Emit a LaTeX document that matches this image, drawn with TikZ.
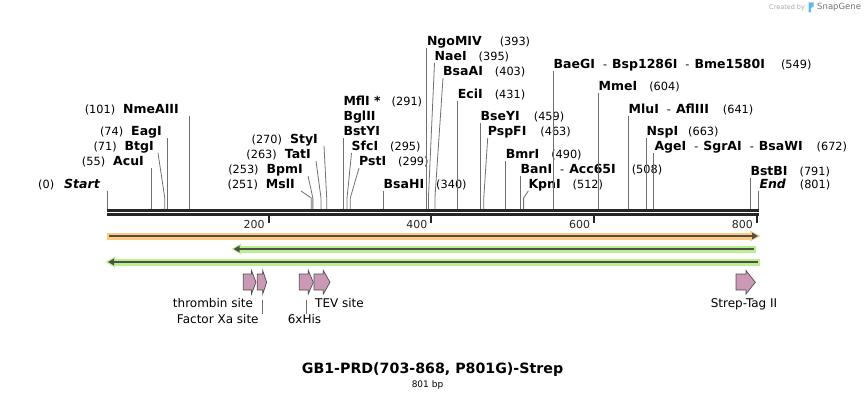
\documentclass[tikz,border=0pt]{standalone}
\usepackage{fontspec}
\setmainfont{DejaVu Sans}
\usetikzlibrary{arrows.meta}
\definecolor{cutline}{HTML}{707070}
\definecolor{bandorange}{HTML}{FCCB7C}
\definecolor{bandgreen}{HTML}{B9F08C}
\definecolor{darkline}{HTML}{4F4F4F}
\definecolor{featpink}{HTML}{C999B5}
\definecolor{snapblue}{HTML}{62B8EC}
\newcommand{\bpx}[1]{107+0.8137*#1}
\newcommand{\enz}[1]{{\fontsize{12.5}{14}\selectfont\bfseries #1}}
\newcommand{\loc}[1]{{\fontsize{11.3}{13}\selectfont(#1)}}
\newcommand{\enzsep}{\hspace{8pt}{\fontsize{11.3}{13}\selectfont-}\hspace{5pt}}
\newcommand{\featarrow}[3]{\draw[feat] (#1,274) -- (#2,274) -- (#2,270.5) -- (#3,282.3) -- (#2,294) -- (#2,290) -- (#1,290) -- cycle;}
\tikzset{
  site/.style={inner sep=0pt, text height=9pt, text depth=2.5pt},
  cutl/.style={draw=cutline, line width=0.8pt},
  feat/.style={fill=featpink, draw=darkline, line width=0.7pt, line join=miter},
  featlbl/.style={inner sep=0pt, font=\fontsize{12}{14}\selectfont},
}
\begin{document}
\begin{tikzpicture}[x=1pt,y=-1pt]
\useasboundingbox (0,0) rectangle (866,401);
\foreach \n in {0,55,71,74,101,251,253,263,270,291,295,299,340,393,395,403,431,459,463,490,508,512,549,604,641,663,672,791,801} {
  \coordinate (s\n) at ({\bpx{\n}},209);
  \coordinate (k\n) at ({\bpx{\n}},198);
}

% backbone and ruler
\draw[line width=3pt, black!85] (107,210) -- (759,210);
\draw[line width=3pt, black!85] (107,214.5) -- (759,214.5);
\foreach \t in {200,400,600,800}
  \draw[line width=2pt, black!85] ({\bpx{\t}-1},214) -- ({\bpx{\t}-1},223)
    node[anchor=east, xshift=-3pt, yshift=-1pt, inner sep=0pt, font=\fontsize{11}{12}\selectfont] {\t};

% left labels
\node[site, anchor=east] (lStart) at (100,185) {\loc{0}\hspace{10pt}\enz{\itshape Start}};
\node[site, anchor=east] (lAcuI) at (144,162) {\loc{55}\hspace{8pt}\enz{AcuI}};
\node[site, anchor=east] (lBtgI) at (154,147) {\loc{71}\hspace{8pt}\enz{BtgI}};
\node[site, anchor=east] (lEagI) at (162,132) {\loc{74}\hspace{8pt}\enz{EagI}};
\node[site, anchor=east] (lNmeAIII) at (179,110) {\loc{101}\hspace{8pt}\enz{NmeAIII}};
\node[site, anchor=east] (lStyI) at (318,140) {\loc{270}\hspace{8pt}\enz{StyI}};
\node[site, anchor=east] (lTatI) at (311,155) {\loc{263}\hspace{8pt}\enz{TatI}};
\node[site, anchor=east] (lBpmI) at (303,170) {\loc{253}\hspace{8pt}\enz{BpmI}};
\node[site, anchor=east] (lMslI) at (295,185) {\loc{251}\hspace{8pt}\enz{MslI}};

% right labels
\node[site, anchor=west] (lMflI) at (343.3,102) {\enz{MflI *}\hspace{11pt}\loc{291}};
\node[site, anchor=west] (lBglII) at (343.3,117) {\enz{BglII}};
\node[site, anchor=west] (lBstYI) at (343.3,132) {\enz{BstYI}};
\node[site, anchor=west] (lSfcI) at (351.5,147) {\enz{SfcI}\hspace{12pt}\loc{295}};
\node[site, anchor=west] (lPstI) at (359,162) {\enz{PstI}\hspace{12pt}\loc{299}};
\node[site, anchor=west] (lBsaHI) at (383.5,185) {\enz{BsaHI}\hspace{12pt}\loc{340}};
\node[site, anchor=west] (lNgoMIV) at (426.8,42) {\enz{NgoMIV}\hspace{18pt}\loc{393}};
\node[site, anchor=west] (lNaeI) at (434.5,57) {\enz{NaeI}\hspace{12pt}\loc{395}};
\node[site, anchor=west] (lBsaAI) at (443,72) {\enz{BsaAI}\hspace{12pt}\loc{403}};
\node[site, anchor=west] (lEciI) at (457.7,95) {\enz{EciI}\hspace{12pt}\loc{431}};
\node[site, anchor=west] (lBseYI) at (480.5,117) {\enz{BseYI}\hspace{14pt}\loc{459}};
\node[site, anchor=west] (lPspFI) at (487.7,132) {\enz{PspFI}\hspace{14pt}\loc{463}};
\node[site, anchor=west] (lBmrI) at (505.7,155) {\enz{BmrI}\hspace{12pt}\loc{490}};
\node[site, anchor=west] (lBanI) at (520.5,170) {\enz{BanI}\enzsep\enz{Acc65I}\hspace{16pt}\loc{508}};
\node[site, anchor=west] (lKpnI) at (528.3,185) {\enz{KpnI}\hspace{12pt}\loc{512}};
\node[site, anchor=west] (lBaeGI) at (553.5,65) {\enz{BaeGI}\enzsep\enz{Bsp1286I}\enzsep\enz{Bme1580I}\hspace{16pt}\loc{549}};
\node[site, anchor=west] (lMmeI) at (598.5,87) {\enz{MmeI}\hspace{12pt}\loc{604}};
\node[site, anchor=west] (lMluI) at (628.5,110) {\enz{MluI}\enzsep\enz{AflIII}\hspace{14pt}\loc{641}};
\node[site, anchor=west] (lNspI) at (646.5,132) {\enz{NspI}\hspace{10pt}\loc{663}};
\node[site, anchor=west] (lAgeI) at (654.3,147) {\enz{AgeI}\enzsep\enz{SgrAI}\enzsep\enz{BsaWI}\hspace{14pt}\loc{672}};
\node[site, anchor=west] (lBstBI) at (750.3,172) {\enz{BstBI}\hspace{12pt}\loc{791}};
\node[site, anchor=west] (lEnd) at (759.3,185) {\enz{\itshape End}\hspace{14pt}\loc{801}};

% cut site lines
\draw[cutl] (s0) -- (s0 |- lStart.south);
\draw[cutl] (s55) -- (s55 |- lAcuI.south);
\draw[cutl] (s71) -- (k71) -- ([xshift=4pt]lBtgI.south east);
\draw[cutl] (s74) -- (s74 |- lEagI.south);
\draw[cutl] (s101) -- (s101 |- lNmeAIII.south);
\draw[cutl] (s251) -- (k251) -- ([xshift=6pt]lMslI.south east);
\draw[cutl] (s253) -- (k253) -- ([xshift=5pt]lBpmI.south east);
\draw[cutl] (s263) -- (k263) -- ([xshift=5pt]lTatI.south east);
\draw[cutl] (s270) -- (k270) -- ([xshift=6pt]lStyI.south east);
\draw[cutl] (s291) -- (s291 |- lBstYI.south);
\draw[cutl] (s295) -- (k295) -- (lSfcI.south west);
\draw[cutl] (s299) -- (k299) -- (lPstI.south west);
\draw[cutl] (s340) -- (s340 |- lBsaHI.south);
\draw[cutl] (s393) -- (s393 |- lNgoMIV.south);
\draw[cutl] (s395) -- (k395) -- (lNaeI.south west);
\draw[cutl] (s403) -- (k403) -- (lBsaAI.south west);
\draw[cutl] (s431) -- (s431 |- lEciI.south);
\draw[cutl] (s459) -- (s459 |- lBseYI.south);
\draw[cutl] (s463) -- (k463) -- (lPspFI.south west);
\draw[cutl] (s490) -- (s490 |- lBmrI.south);
\draw[cutl] (s508) -- (s508 |- lBanI.south);
\draw[cutl] (s512) -- (k512) -- (lKpnI.south west);
\draw[cutl] (s549) -- (s549 |- lBaeGI.south);
\draw[cutl] (s604) -- (s604 |- lMmeI.south);
\draw[cutl] (s641) -- (s641 |- lMluI.south);
\draw[cutl] (s663) -- (s663 |- lNspI.south);
\draw[cutl] (s672) -- (s672 |- lAgeI.south);
\draw[cutl] (s791) -- (s791 |- lBstBI.south);
\draw[cutl] (s801) -- (s801 |- lEnd.south);

% feature bars
\fill[bandorange] (107,232.5) rectangle (751,239.5);
\fill[bandorange] (750,230.5) -- (760.5,236) -- (750,241.5) -- cycle;
\draw[darkline, line width=2pt, -{Triangle[length=6pt,width=6.5pt]}] (109,236) -- (758,236);
\fill[bandgreen] (240,245.5) rectangle (755.5,252.5);
\fill[bandgreen] (241,243.5) -- (231.5,249) -- (241,254.5) -- cycle;
\draw[darkline, line width=2pt, -{Triangle[length=6pt,width=6.5pt]}] (753.5,249) -- (233.5,249);
\fill[bandgreen] (114,258.5) rectangle (760,265.5);
\fill[bandgreen] (115,256.5) -- (105.5,262) -- (115,267.5) -- cycle;
\draw[darkline, line width=2pt, -{Triangle[length=6pt,width=6.5pt]}] (758,262) -- (108,262);

% features
\featarrow{243.3}{251.5}{256}
\featarrow{257.3}{262.7}{266.7}
\featarrow{299.3}{308.3}{313.3}
\featarrow{314}{323.3}{330}
\featarrow{736}{746}{755.3}

\node[featlbl] (lThr) at (213,303) {thrombin site};
\node[featlbl] (lXa) at (217.8,319) {Factor Xa site};
\node[featlbl] (lHis) at (304.5,319) {6xHis};
\node[featlbl, anchor=west] (lTEV) at (315,303) {TEV site};
\node[featlbl] (lStrep) at (744,304) {Strep-Tag II};
\coordinate (cXa) at (262.3,299.5);
\coordinate (cHis) at (306.7,299.5);
\draw[cutl] (cXa) -- (cXa |- lXa.north);
\draw[cutl] (cHis) -- (cHis |- lHis.north);

% title
\node[font=\fontsize{14.2}{16}\selectfont\bfseries] (title) at (432.5,370) {GB1-PRD(703-868, P801G)-Strep};
\node[font=\fontsize{9}{10}\selectfont] (size) at (427.5,385.5) {801 bp};

% watermark
\node[anchor=west, inner sep=0pt, text=black!35, font=\fontsize{6.5}{8}\selectfont] (made) at (769,7.5) {Created by};
\fill[snapblue] (808.5,2.5) -- (813.5,2.5) -- (813.5,6.5) -- (811,8) -- (811,12.5) -- (808.5,12.5) -- cycle;
\node[anchor=west, inner sep=0pt, text=black!55, font=\fontsize{8.5}{10}\selectfont] (snap) at (817,7.5) {SnapGene};
\end{tikzpicture}
\end{document}
